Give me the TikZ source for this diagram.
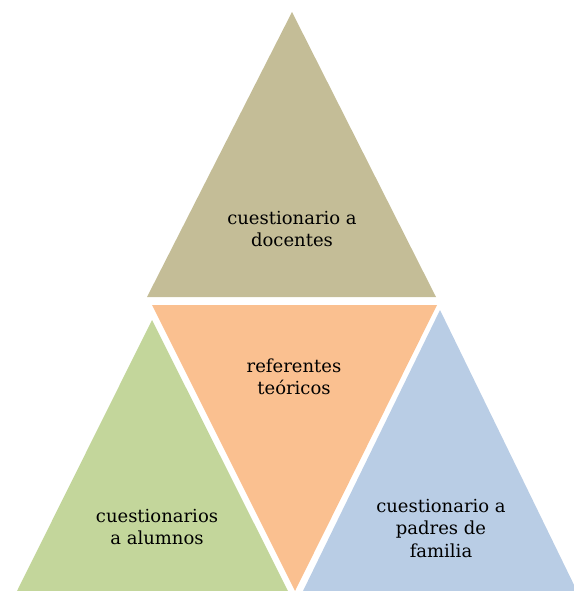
\documentclass[tikz,border=0pt]{standalone}
\usepackage{fontspec}
\setmainfont{DejaVu Serif}
\definecolor{tanc}{HTML}{C4BD97}
\definecolor{peachc}{HTML}{FAC090}
\definecolor{greenc}{HTML}{C3D69B}
\definecolor{bluec}{HTML}{B9CDE5}
\begin{document}
\begin{tikzpicture}[x=1pt,y=-1pt,
  lbl/.style={align=center,font=\fontsize{18}{22.5}\selectfont,text=black,inner sep=0pt}]
\useasboundingbox (0,0) rectangle (573,591);
\fill[tanc] (292,12) -- (436,297) -- (147,297) -- cycle;
\fill[peachc] (152,305) -- (437,305) -- (295,591) -- cycle;
\fill[greenc] (152,320) -- (288,591) -- (17,591) -- cycle;
\fill[bluec] (440,310) -- (577,591) -- (303,591) -- cycle;
\node[lbl] (top) at (292,229) {cuestionario a\\docentes};
\node[lbl] (mid) at (294,377) {referentes\\teóricos};
\node[lbl] (left) at (157,527) {cuestionarios\\a alumnos};
\node[lbl] (right) at (441,528) {cuestionario a\\padres de\\familia};
\end{tikzpicture}
\end{document}
